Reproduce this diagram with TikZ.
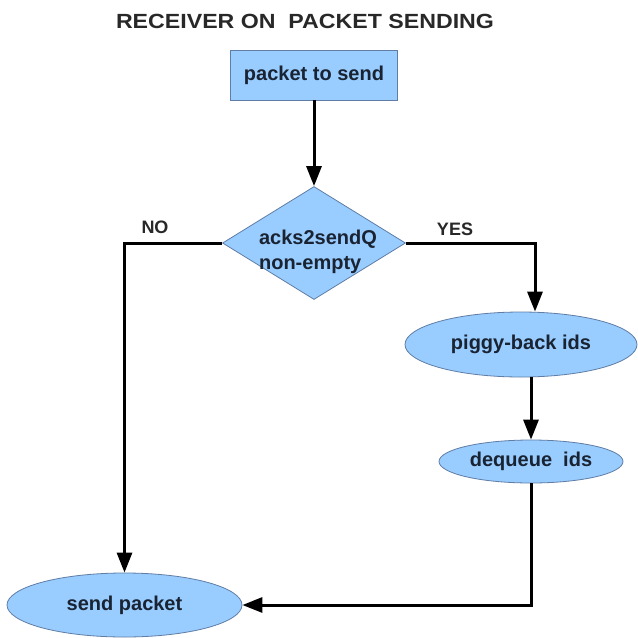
\documentclass[tikz,border=0pt]{standalone}
\usepackage{fontspec}
\setmainfont{Liberation Sans}
\usetikzlibrary{shapes.geometric,arrows.meta}
\definecolor{nodefill}{RGB}{153,204,255}
\definecolor{nodeedge}{RGB}{95,125,165}
\definecolor{nodetext}{RGB}{25,35,50}
\definecolor{labeltext}{RGB}{40,40,40}
\begin{document}
\begin{tikzpicture}[x=1pt,y=-1pt,
  shapebase/.style={fill=nodefill,draw=nodeedge,line width=0.8pt,inner sep=0pt,
    font=\fontsize{20}{25}\selectfont\bfseries,text=nodetext},
  procbox/.style={shapebase,rectangle,minimum width=167pt,minimum height=50pt},
  decision/.style={shapebase,diamond,minimum width=183pt,minimum height=113pt},
  terminal/.style={shapebase,ellipse},
  flow/.style={line width=3pt,-{Triangle[length=20pt,width=15pt]}},
  edgelabel/.style={font=\fontsize{18}{20}\selectfont\bfseries,text=labeltext},
  titletext/.style={font=\fontsize{20.5}{24}\selectfont\bfseries,text=labeltext},
  innertext/.style={font=\fontsize{20}{25}\selectfont\bfseries,text=nodetext,align=left,inner sep=0pt}
]
\useasboundingbox (0,0) rectangle (638,638);
\fill[white] (0,0) rectangle (638,638);

\node[titletext] (title) at (305,21) {\scalebox{1.13}[1]{RECEIVER ON\ \ PACKET SENDING}};

\node[procbox] (start) at (314,75) {packet to send};
\node[decision] (dec) at (314,243) {};
\node[innertext] (dectext) at (318,252) {acks2sendQ\\non-empty};
\node[terminal,minimum width=232pt,minimum height=65pt] (piggy) at (521,344.5) {piggy-back ids};
\node[terminal,minimum width=184pt,minimum height=43pt] (dq) at (531,461.5) {dequeue\ \ ids};
\node[terminal,minimum width=235pt,minimum height=64pt] (send) at (124.5,605) {send packet};

\node[edgelabel] (nolabel) at (155,227) {NO};
\node[edgelabel] (yeslabel) at (455,229) {YES};

\draw[flow] (start) -- (dec);
\draw[flow] (dec.west) -| (send.north);
\draw[flow] (dec.east) -| ([xshift=14pt]piggy.north);
\draw[flow] (piggy.south -| dq.north) -- (dq.north);
\draw[flow] (dq.south) |- (send.east);
\end{tikzpicture}
\end{document}
